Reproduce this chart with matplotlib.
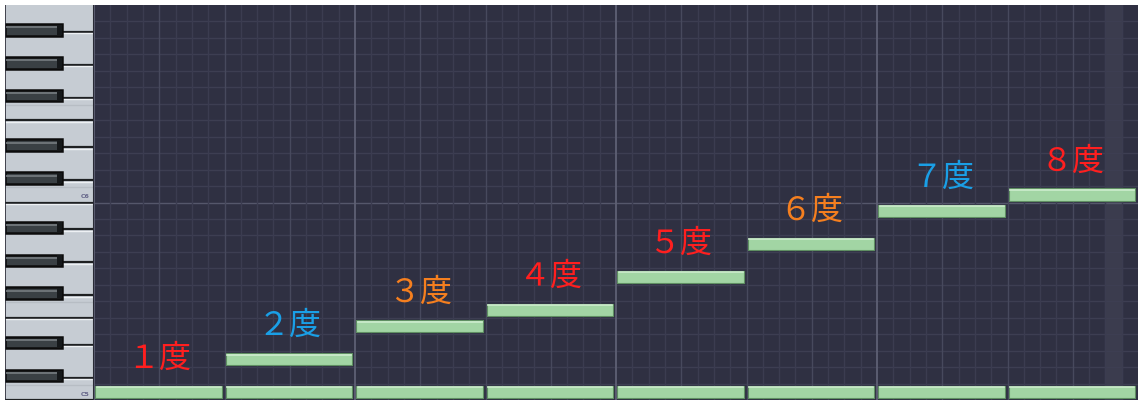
import matplotlib.pyplot as plt
import numpy as np
from matplotlib.patches import Rectangle

# piano roll: C5 (row 0) .. B6 (row 23), 8 notes of equal length
steps = [0, 2, 4, 5, 7, 9, 11, 12]
labels = ['１度', '２度', '３度', '４度', '５度', '６度', '７度', '８度']
label_colors = ['#ff1f1f', '#1a9fe6', '#f57f1f', '#ff1f1f', '#ff1f1f', '#f57f1f', '#1a9fe6', '#ff1f1f']
drone = [0] * 8
n_rows = 24
black_rows = [1, 3, 6, 8, 10, 13, 15, 18, 20, 22]
octave_names = {0: 'C5', 12: 'C6'}

W, H = 1138, 401
fig = plt.figure(figsize=(W / 100, H / 100), dpi=100, facecolor='white')


def bare(a):
    a.set_xticks([])
    a.set_yticks([])
    for s in a.spines.values():
        s.set_visible(False)


grid_left, grid_bottom, grid_top = 94, 1, 395
ax = fig.add_axes([grid_left / W, grid_bottom / H, (W - grid_left) / W, grid_top / H])
ax.set_xlim(0, 8)
ax.set_ylim(0, n_rows)
ax.set_facecolor('#2f3042')
bare(ax)

# shaded column
ax.add_patch(Rectangle((7.75, 0), 0.125, n_rows, color='#3b3c4e', zorder=0))

# grid
for r in range(1, n_rows):
    c = '#55576b' if r % 12 == 0 else '#3d3e52'
    ax.axhline(r, color=c, lw=1, zorder=1)
for v in np.arange(0.125, 8, 0.125):
    if abs(v % 2) < 1e-9:
        c, lw = '#5e6074', 1.3
    elif abs(v % 0.5) < 1e-9:
        c, lw = '#47495d', 1.0
    else:
        c, lw = '#3b3c50', 1.0
    ax.axvline(v, color=c, lw=lw, zorder=1)
ax.axvline(0.003, color='#5e6074', lw=1.3, zorder=1)


def note(x, row):
    ax.add_patch(Rectangle((x + 0.01, row + 0.06), 0.975, 0.8, facecolor='#243424',
                           edgecolor='none', zorder=3))
    ax.add_patch(Rectangle((x + 0.01, row + 0.12), 0.968, 0.74, facecolor='#a2d5a4',
                           edgecolor='#5f8f62', lw=0.8, zorder=4))
    ax.plot([x + 0.02, x + 0.97], [row + 0.76, row + 0.76], color='#cdeccd', lw=1.2, zorder=5)


for i, r in enumerate(drone):
    note(i, r)
for i, r in enumerate(steps):
    if r != 0:
        note(i, r)
    ax.text(i + 0.5, r + 2.5, labels[i], color=label_colors[i], fontsize=23,
            ha='center', va='center', family=['Noto Sans CJK JP', 'DejaVu Sans'], zorder=6)

# keyboard
kb = fig.add_axes([5 / W, grid_bottom / H, (grid_left - 5) / W, grid_top / H])
kb.set_xlim(0, 89)
kb.set_ylim(0, n_rows)
kb.set_facecolor('#c6ccd3')
bare(kb)
for r in range(n_rows):
    if r in black_rows:
        kb.plot([0, 88], [r + 0.36, r + 0.36], color='#1e2022', lw=1.6, zorder=1)
        kb.plot([0, 88], [r + 0.27, r + 0.27], color='#eef1f4', lw=1.0, zorder=1)
    elif r % 12 in (0, 5):
        kb.plot([0, 88], [r, r], color='#1e2022', lw=1.6, zorder=1)
        kb.plot([0, 88], [r - 0.09, r - 0.09], color='#eef1f4', lw=1.0, zorder=1)
    if r % 12 in (0, 5):
        kb.plot([0, 88], [r + 0.93, r + 0.93], color='#b7bdc4', lw=1.0, zorder=1)
for r in black_rows:
    kb.add_patch(Rectangle((0, r + 0.14), 57, 0.7, facecolor='#3a4044',
                           edgecolor='#0c0c0c', lw=1.8, zorder=2))
    kb.add_patch(Rectangle((52, r + 0.19), 4.5, 0.6, facecolor='#15181a',
                           edgecolor='none', zorder=3))
    kb.plot([1.5, 51], [r + 0.64, r + 0.64], color='#6e7478', lw=1.4, zorder=3)
for r, name in octave_names.items():
    kb.text(85, r + 0.35, name, fontsize=4.5, color='#66668a', ha='right', va='center',
            fontweight='bold', zorder=3)
kb.plot([0.3, 0.3], [0, n_rows], color='#2a2b36', lw=1.2, zorder=4)
kb.plot([88.6, 88.6], [0, n_rows], color='#2a2b36', lw=1.5, zorder=4)

fig.savefig('out.png', dpi=100, facecolor='white')
